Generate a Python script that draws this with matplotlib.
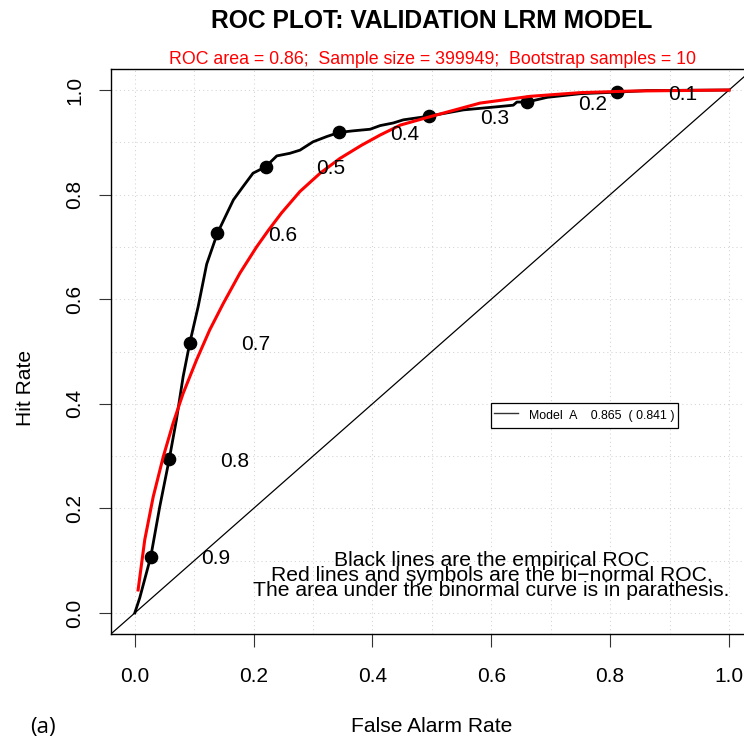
import matplotlib
matplotlib.use("Agg")
import matplotlib.pyplot as plt
from matplotlib.lines import Line2D
from matplotlib.ticker import MultipleLocator

plt.rcParams['font.family'] = ['Liberation Sans', 'DejaVu Sans']

# Empirical ROC (false alarm rate, hit rate)
emp_far = [0.0, 0.0084, 0.027, 0.042, 0.058, 0.070, 0.0814, 0.0927, 0.1067, 0.121,
           0.139, 0.155, 0.166, 0.182, 0.199, 0.220, 0.239, 0.261, 0.278, 0.300,
           0.323, 0.344, 0.368, 0.396, 0.413, 0.435, 0.452, 0.495, 0.553, 0.610,
           0.637, 0.643, 0.660, 0.694, 0.750, 0.812, 0.862, 1.0]
emp_hit = [0.0, 0.029, 0.108, 0.203, 0.294, 0.369, 0.452, 0.517, 0.586, 0.667,
           0.726, 0.764, 0.790, 0.815, 0.841, 0.853, 0.874, 0.879, 0.885, 0.901,
           0.911, 0.919, 0.922, 0.925, 0.932, 0.937, 0.943, 0.950, 0.962, 0.968,
           0.971, 0.977, 0.977, 0.986, 0.993, 0.996, 0.999, 1.0]

# Bi-normal fitted ROC
bin_far = [0.0056, 0.0168, 0.031, 0.048, 0.0645, 0.0814, 0.104, 0.126, 0.149, 0.177,
           0.205, 0.225, 0.247, 0.278, 0.312, 0.345, 0.381, 0.413, 0.447, 0.497,
           0.581, 0.666, 0.750, 0.834, 1.0]
bin_hit = [0.044, 0.140, 0.222, 0.299, 0.363, 0.420, 0.484, 0.541, 0.592, 0.650,
           0.700, 0.732, 0.765, 0.806, 0.841, 0.869, 0.894, 0.914, 0.933, 0.949,
           0.975, 0.988, 0.995, 0.998, 1.0]

# Threshold points on the empirical curve
thresholds = ['0.9', '0.8', '0.7', '0.6', '0.5', '0.4', '0.3', '0.2', '0.1']
thr_far = [0.027, 0.058, 0.0927, 0.139, 0.220, 0.344, 0.495, 0.660, 0.812]
thr_hit = [0.108, 0.294, 0.517, 0.726, 0.853, 0.919, 0.950, 0.977, 0.996]

ticks = [0.0, 0.2, 0.4, 0.6, 0.8, 1.0]
tick_labels = ['0.0', '0.2', '0.4', '0.6', '0.8', '1.0']

model_name = 'Model  A'
auc_emp = 0.865
auc_bin = 0.841

W, H = 744, 740
fig = plt.figure(figsize=(W / 100, H / 100), dpi=100)
ax = fig.add_axes([111 / W, 1 - 633.9 / H, 641.8 / W, 564.8 / H])
ax.set_xlim(-0.04, 1.04)
ax.set_ylim(-0.04, 1.04)

ax.xaxis.set_minor_locator(MultipleLocator(0.1))
ax.yaxis.set_minor_locator(MultipleLocator(0.1))
ax.grid(which='both', color='#D3D3D3', linestyle=(0, (1, 3)), linewidth=0.75, zorder=0)
ax.set_axisbelow(True)

ax.axline((0, 0), (1, 1), color='black', lw=0.9, zorder=2)
ax.plot(emp_far, emp_hit, color='black', lw=2.0, zorder=3, solid_joinstyle='round')
ax.plot(thr_far, thr_hit, 'o', color='black', ms=8.8, zorder=4)
ax.plot(bin_far, bin_hit, color='#FF0000', lw=2.2, zorder=5, solid_joinstyle='round')

for lab, xv, yv in zip(thresholds, thr_far, thr_hit):
    ax.text(xv + 0.11, yv - 0.0143, lab, fontsize=15, ha='center', va='baseline', zorder=6)

notes = ['Black lines are the empirical ROC',
         'Red lines and symbols are the bi\u2212normal ROC.',
         'The area under the binormal curve is in parathesis.']
for note, yb in zip(notes, [0.0904, 0.0618, 0.0331]):
    ax.text(0.60, yb, note, fontsize=15.2, ha='center', va='baseline', zorder=6)

leg = ax.legend(handles=[Line2D([], [], color='#333333', lw=1.0)],
                labels=[f'{model_name}    {auc_emp:.3f}  ( {auc_bin:.3f} )'],
                loc='upper left', bbox_to_anchor=(0.60, 0.4015),
                bbox_transform=ax.transData, fontsize=8.9, frameon=True,
                fancybox=False, framealpha=1, edgecolor='black',
                borderaxespad=0, borderpad=0.24, handlelength=1.94,
                handleheight=2.0, handletextpad=0.89)
leg.get_frame().set_linewidth(0.9)
leg.set_zorder(7)

ax.set_xticks(ticks)
ax.set_xticklabels(tick_labels)
ax.set_yticks(ticks)
ax.set_yticklabels(tick_labels, rotation=90, va='center')
ax.tick_params(which='major', direction='out', length=9, width=0.8, labelsize=15, color='#333333')
ax.tick_params(axis='x', which='major', pad=14.9)
ax.tick_params(axis='y', which='major', pad=10)
ax.tick_params(which='minor', length=0)
for s in ax.spines.values():
    s.set_linewidth(1.0)

fig.text(432 / W, 1 - 27.5 / H, 'ROC PLOT: VALIDATION LRM MODEL', fontsize=17.7,
         fontweight='bold', ha='center', va='baseline')
fig.text(432 / W, 1 - 64.5 / H,
         'ROC area = 0.86;  Sample size = 399949;  Bootstrap samples = 10',
         fontsize=12.8, color='#FF0000', ha='center', va='baseline')
fig.text(432 / W, 1 - 732 / H, 'False Alarm Rate', fontsize=15.1, ha='center', va='baseline')
fig.text(25.5 / W, 351.5 / H, 'Hit Rate', fontsize=15.1, rotation=90, ha='center', va='center')
fig.text(30 / W, 1 - 732.5 / H, '(a)', fontsize=16, family=['Open Sans', 'DejaVu Sans'],
         ha='left', va='baseline')

fig.savefig('out.png', dpi=100)
